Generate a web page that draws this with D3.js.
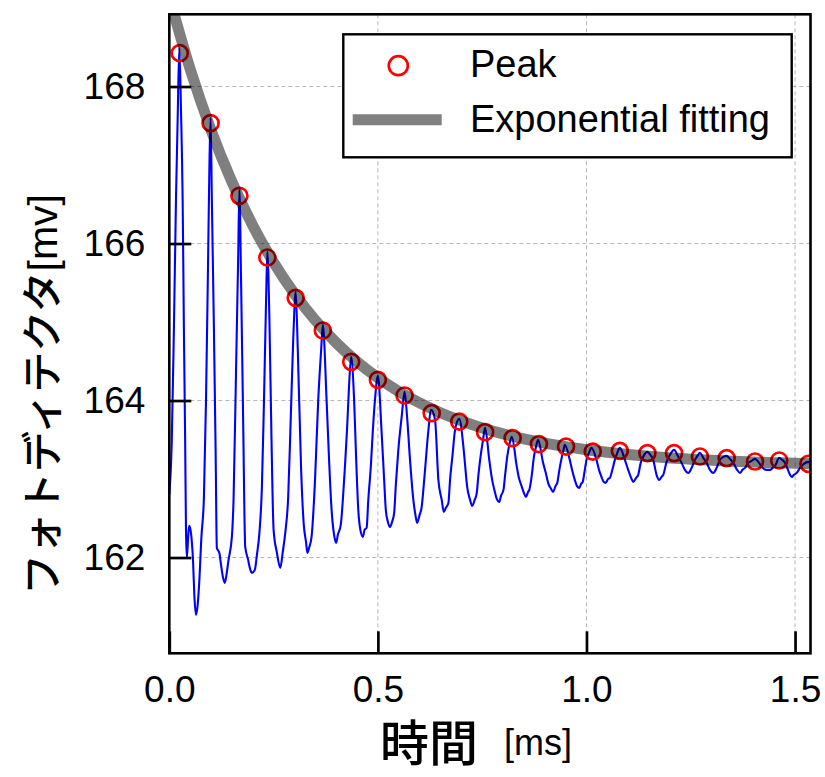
<!DOCTYPE html>
<html>
<head>
<meta charset="utf-8">
<script src="https://cdn.jsdelivr.net/npm/d3@7"></script>
<style>
  html, body { margin: 0; padding: 0; background: #ffffff; }
  svg { display: block; }
</style>
</head>
<body>
<svg id="chart" width="825" height="777"></svg>
<script>
// ---- data -------------------------------------------------------------
const xTicks = [0.0, 0.5, 1.0, 1.5];
const yTicks = [162, 164, 166, 168];

// detected peaks of the photodetector signal (ms, mV)
const peakTime = [0.025, 0.099, 0.168, 0.235, 0.303, 0.368, 0.436, 0.500,
                  0.564, 0.629, 0.695, 0.757, 0.823, 0.886, 0.951, 1.015,
                  1.080, 1.146, 1.210, 1.272, 1.336, 1.404, 1.462, 1.532];
const peakVolt = [168.425, 167.534, 166.608, 165.822, 165.308, 164.892, 164.493, 164.264,
                  164.064, 163.839, 163.732, 163.597, 163.521, 163.445, 163.414, 163.350,
                  163.359, 163.330, 163.330, 163.287, 163.266, 163.223, 163.236, 163.194];

// exponential fit of the peak envelope (ms, mV)
const fitTime = [0.00, 0.05, 0.10, 0.15, 0.20, 0.25, 0.30, 0.35, 0.40, 0.45, 0.50,
                 0.55, 0.60, 0.65, 0.70, 0.75, 0.80, 0.85, 0.90, 0.95, 1.00,
                 1.05, 1.10, 1.15, 1.20, 1.25, 1.30, 1.35, 1.40, 1.45, 1.50, 1.55];
const fitVolt = [169.140, 168.222, 167.445, 166.787, 166.230, 165.759, 165.360, 165.022,
                 164.736, 164.494, 164.290, 164.116, 163.969, 163.845, 163.740, 163.651,
                 163.576, 163.512, 163.458, 163.412, 163.373, 163.341, 163.313, 163.289,
                 163.269, 163.253, 163.238, 163.226, 163.216, 163.208, 163.200, 163.194];

// raw photodetector trace (ms, mV)
const traceTime = [
  0.000, 0.006, 0.011, 0.016, 0.020, 0.024, 0.028, 0.032, 0.035, 0.038,
  0.040, 0.042, 0.046, 0.048, 0.053, 0.057, 0.060, 0.064, 0.068, 0.071,
  0.077, 0.083, 0.088, 0.093, 0.096, 0.099, 0.102, 0.107, 0.111, 0.114,
  0.120, 0.124, 0.129, 0.133, 0.137, 0.142, 0.150, 0.154, 0.160, 0.165,
  0.168, 0.172, 0.177, 0.182, 0.189, 0.193, 0.198, 0.205, 0.210, 0.216,
  0.222, 0.227, 0.232, 0.235, 0.240, 0.245, 0.250, 0.258, 0.266, 0.272,
  0.278, 0.285, 0.291, 0.297, 0.303, 0.308, 0.316, 0.322, 0.328, 0.331,
  0.335, 0.341, 0.349, 0.357, 0.364, 0.368, 0.377, 0.383, 0.389, 0.395,
  0.400, 0.404, 0.411, 0.416, 0.421, 0.426, 0.431, 0.436, 0.443, 0.448,
  0.453, 0.458, 0.464, 0.468, 0.473, 0.477, 0.483, 0.488, 0.493, 0.500,
  0.509, 0.515, 0.519, 0.524, 0.529, 0.534, 0.539, 0.543, 0.549, 0.557,
  0.564, 0.570, 0.577, 0.585, 0.590, 0.594, 0.600, 0.605, 0.610, 0.615,
  0.620, 0.628, 0.637, 0.645, 0.653, 0.658, 0.663, 0.669, 0.673, 0.679,
  0.685, 0.695, 0.705, 0.709, 0.714, 0.721, 0.726, 0.732, 0.737, 0.741,
  0.746, 0.752, 0.757, 0.767, 0.773, 0.781, 0.785, 0.791, 0.795, 0.801,
  0.805, 0.810, 0.815, 0.821, 0.833, 0.838, 0.845, 0.850, 0.855, 0.860,
  0.863, 0.869, 0.874, 0.879, 0.884, 0.896, 0.903, 0.908, 0.915, 0.920,
  0.926, 0.930, 0.935, 0.941, 0.945, 0.948, 0.960, 0.966, 0.972, 0.977,
  0.983, 0.987, 0.991, 0.996, 1.000, 1.006, 1.012, 1.024, 1.030, 1.036,
  1.041, 1.046, 1.052, 1.056, 1.062, 1.068, 1.074, 1.080, 1.092, 1.100,
  1.107, 1.112, 1.119, 1.124, 1.130, 1.137, 1.146, 1.153, 1.160, 1.168,
  1.174, 1.180, 1.184, 1.192, 1.200, 1.210, 1.219, 1.228, 1.236, 1.244,
  1.252, 1.260, 1.266, 1.272, 1.280, 1.288, 1.296, 1.304, 1.312, 1.320,
  1.328, 1.336, 1.344, 1.352, 1.361, 1.368, 1.374, 1.380, 1.388, 1.396,
  1.404, 1.412, 1.420, 1.432, 1.440, 1.446, 1.452, 1.462, 1.469, 1.476,
  1.483, 1.488, 1.492, 1.497, 1.504, 1.512, 1.521, 1.532, 1.541];
const traceVolt = [
  162.798, 163.499, 164.900, 166.556, 167.575, 168.493, 167.703, 166.556, 164.900, 163.499,
  162.352, 161.996, 162.327, 162.403, 162.263, 161.945, 161.524, 161.270, 161.397, 161.613,
  162.263, 162.773, 164.008, 165.792, 166.938, 167.601, 166.556, 164.900, 163.371, 162.123,
  162.059, 161.906, 161.741, 161.677, 161.779, 161.970, 162.263, 162.734, 164.391, 165.792,
  166.684, 165.537, 163.754, 162.136, 161.970, 161.868, 161.805, 161.843, 162.034, 162.314,
  162.900, 164.008, 165.282, 165.894, 165.028, 163.499, 162.352, 162.059, 161.868, 162.072,
  162.314, 162.773, 163.754, 164.773, 165.384, 164.645, 163.117, 162.441, 162.187, 162.059,
  162.123, 162.263, 162.951, 164.008, 164.645, 164.964, 164.008, 163.244, 162.607, 162.289,
  162.187, 162.289, 162.416, 162.734, 163.155, 163.626, 164.199, 164.556, 164.008, 163.244,
  162.607, 162.352, 162.263, 162.352, 162.378, 162.734, 163.155, 163.626, 164.008, 164.314,
  163.588, 162.989, 162.607, 162.454, 162.391, 162.454, 162.569, 162.926, 163.371, 163.792,
  164.110, 163.792, 163.244, 162.734, 162.543, 162.441, 162.543, 162.645, 162.926, 163.244,
  163.563, 163.881, 163.754, 162.989, 162.734, 162.582, 162.633, 162.696, 162.989, 163.308,
  163.626, 163.766, 163.410, 163.180, 162.900, 162.734, 162.658, 162.734, 162.824, 163.053,
  163.282, 163.499, 163.652, 163.244, 163.015, 162.824, 162.747, 162.709, 162.785, 162.862,
  163.053, 163.282, 163.435, 163.537, 163.155, 163.015, 162.900, 162.824, 162.773, 162.836,
  162.862, 163.053, 163.282, 163.410, 163.499, 163.206, 163.066, 162.951, 162.875, 162.836,
  162.913, 162.951, 163.117, 163.282, 163.371, 163.435, 163.244, 163.104, 162.989, 162.913,
  162.887, 162.938, 162.964, 163.117, 163.244, 163.333, 163.397, 163.244, 163.117, 163.027,
  162.964, 162.951, 163.002, 163.015, 163.117, 163.244, 163.333, 163.397, 163.244, 163.117,
  163.015, 162.964, 163.015, 163.053, 163.206, 163.295, 163.346, 163.308, 163.244, 163.053,
  162.989, 163.027, 163.053, 163.219, 163.308, 163.371, 163.295, 163.206, 163.117, 163.078,
  163.142, 163.244, 163.295, 163.333, 163.270, 163.206, 163.117, 163.078, 163.142, 163.244,
  163.282, 163.295, 163.257, 163.206, 163.117, 163.078, 163.117, 163.142, 163.206, 163.231,
  163.257, 163.219, 163.155, 163.117, 163.117, 163.142, 163.168, 163.270, 163.244, 163.206,
  163.117, 163.053, 163.028, 163.053, 163.078, 163.142, 163.193, 163.219, 163.142];

const legendLabels = ["Peak", "Exponential fitting"];
const xLabelMain = "時間";
const xLabelUnit = "[ms]";
const yLabel = "フォトディテクタ[mv]";

// ---- layout -----------------------------------------------------------
const plot = { left: 169.3, top: 14.3, right: 810.5, bottom: 653.3 };
const latin = "'Liberation Sans', Arial, 'Noto Sans CJK JP', sans-serif";
const cjk = "'Noto Sans CJK JP', 'Liberation Sans', sans-serif";

const x = d3.scaleLinear().domain([0, 1.537]).range([plot.left, plot.right]);
const y = d3.scaleLinear().domain([160.78, 168.92]).range([plot.bottom, plot.top]);

const svg = d3.select("#chart");

svg.append("defs").append("clipPath").attr("id", "plot-clip")
  .append("rect")
  .attr("x", plot.left).attr("y", plot.top)
  .attr("width", plot.right - plot.left).attr("height", plot.bottom - plot.top);

// grid
const grid = svg.append("g").attr("class", "grid");
grid.selectAll("line.vx").data(xTicks).join("line")
  .attr("x1", d => x(d)).attr("x2", d => x(d))
  .attr("y1", plot.top).attr("y2", plot.bottom)
  .attr("stroke", "#b8b8b8").attr("stroke-width", 1).attr("stroke-dasharray", "4,3");
grid.selectAll("line.hy").data(yTicks).join("line")
  .attr("x1", plot.left).attr("x2", plot.right)
  .attr("y1", d => y(d)).attr("y2", d => y(d))
  .attr("stroke", "#b8b8b8").attr("stroke-width", 1).attr("stroke-dasharray", "4,3");

const data = svg.append("g").attr("clip-path", "url(#plot-clip)");

// raw trace
const trace = traceTime.map((t, i) => [t, traceVolt[i]]);
data.append("path")
  .datum(trace)
  .attr("fill", "none")
  .attr("stroke", "#0000ff")
  .attr("stroke-width", 2.1)
  .attr("stroke-linejoin", "round")
  .attr("d", d3.line().curve(d3.curveMonotoneX).x(d => x(d[0])).y(d => y(d[1])));

// peaks
const peaks = peakTime.map((t, i) => [t, peakVolt[i]]);
data.selectAll("circle.peak").data(peaks).join("circle")
  .attr("class", "peak")
  .attr("cx", d => x(d[0])).attr("cy", d => y(d[1]))
  .attr("r", 8)
  .attr("fill", "none")
  .attr("stroke", "#ff0000")
  .attr("stroke-width", 2.7);

// exponential fit (translucent band over the data)
const fit = fitTime.map((t, i) => [t, fitVolt[i]]);
data.append("path")
  .datum(fit)
  .attr("fill", "none")
  .attr("stroke", "#000000")
  .attr("stroke-opacity", 0.5)
  .attr("stroke-width", 11)
  .attr("d", d3.line().curve(d3.curveMonotoneX).x(d => x(d[0])).y(d => y(d[1])));

// axes
const axisY = d3.axisLeft(y).tickValues(yTicks).tickSize(-22).tickPadding(24)
  .tickFormat(d3.format("d"));
const axisX = d3.axisBottom(x).tickValues(xTicks).tickSize(-22).tickPadding(22)
  .tickFormat(d3.format(".1f"));

const gy = svg.append("g").attr("transform", `translate(${plot.left},0)`).call(axisY);
const gx = svg.append("g").attr("transform", `translate(0,${plot.bottom})`).call(axisX);
[gx, gy].forEach(g => {
  g.select(".domain").remove();
  g.selectAll(".tick line").attr("stroke", "#000").attr("stroke-width", 2.7);
  g.selectAll(".tick text").attr("fill", "#000")
    .style("font-family", latin).style("font-size", "37px");
});

// frame
svg.append("rect")
  .attr("x", plot.left).attr("y", plot.top)
  .attr("width", plot.right - plot.left).attr("height", plot.bottom - plot.top)
  .attr("fill", "none").attr("stroke", "#000").attr("stroke-width", 2.6);

// axis titles
svg.append("text")
  .attr("x", 380).attr("y", 761)
  .style("font-family", cjk).style("font-size", "49px").style("font-weight", 500)
  .attr("fill", "#000")
  .text(xLabelMain);
svg.append("text")
  .attr("x", 504).attr("y", 755)
  .style("font-family", latin).style("font-size", "36px").attr("fill", "#000")
  .text(xLabelUnit);
svg.append("text")
  .attr("transform", "translate(57,394.5) rotate(-90)")
  .attr("text-anchor", "middle")
  .style("font-family", latin).style("font-size", "41px").style("font-weight", 500)
  .attr("fill", "#000")
  .text(yLabel);

// legend
const lg = svg.append("g").attr("class", "legend");
lg.append("rect")
  .attr("x", 343.3).attr("y", 34.3).attr("width", 448.4).attr("height", 123)
  .attr("fill", "#fff").attr("stroke", "#000").attr("stroke-width", 2.4);
lg.append("circle")
  .attr("cx", 398.3).attr("cy", 65.7).attr("r", 9.5)
  .attr("fill", "none").attr("stroke", "#ff0000").attr("stroke-width", 2.7);
lg.append("line")
  .attr("x1", 352.7).attr("x2", 441.7).attr("y1", 119.8).attr("y2", 119.8)
  .attr("stroke", "#808080").attr("stroke-width", 11);
lg.selectAll("text").data(legendLabels).join("text")
  .attr("x", 470).attr("y", (d, i) => i === 0 ? 76.7 : 131.7)
  .style("font-family", latin).style("font-size", "38px").attr("fill", "#000")
  .text(d => d);
</script>
</body>
</html>
